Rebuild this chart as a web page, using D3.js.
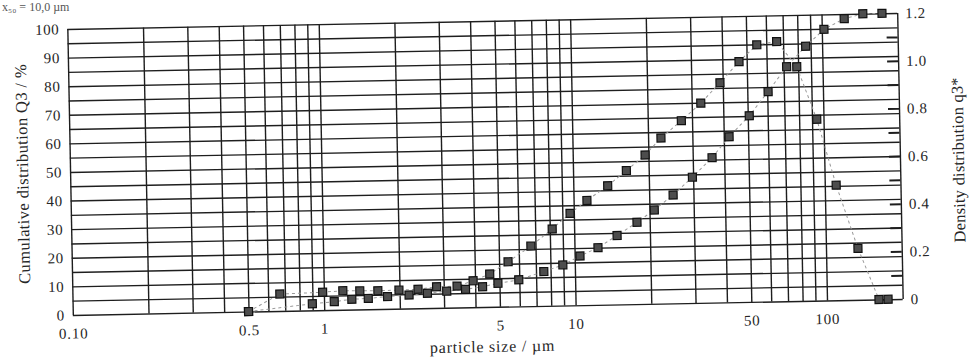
<!DOCTYPE html>
<html>
<head>
<meta charset="utf-8">
<script src="https://cdn.jsdelivr.net/npm/d3@7"></script>
<style>
  html, body { margin: 0; padding: 0; background: #fff; }
  svg { display: block; }
  text { font-family: "Liberation Serif", "DejaVu Serif", serif; fill: #262626; }
</style>
</head>
<body>
<div id="chart"></div>
<script>
// ---- data ----
const cumSize = [0.5, 0.898, 1.098, 1.29, 1.50, 1.79, 2.18, 2.58, 3.08, 3.66, 4.28, 4.93, 5.97, 7.52, 8.96,
                 10.5, 12.4, 14.8, 17.8, 20.9, 24.9, 29.8, 35.8, 42, 50.7, 60.5, 72, 86, 102, 123, 146, 174];
const cumQ3   = [0, 2.3, 2.9, 3.6, 3.8, 4.3, 4.7, 5.2, 5.8, 6.3, 7.1, 8.2, 9.3, 12.0, 14.2,
                 17.2, 20.0, 24.1, 28.6, 32.8, 37.9, 44.0, 50.7, 57.9, 65.1, 73.4, 82.0, 89.0, 94.8, 98.4, 100, 100];

const densSize = [0.5, 0.668, 0.989, 1.19, 1.39, 1.64, 1.99, 2.37, 2.81, 3.39, 3.93, 4.58, 5.43, 6.71, 8.18,
                  9.66, 11.3, 13.7, 16.3, 19.4, 22.5, 27.2, 32.6, 39, 46.6, 55, 66, 79, 94, 111, 134, 161, 175];
const densQ3  = [0, 0.071, 0.075, 0.080, 0.078, 0.077, 0.078, 0.080, 0.089, 0.090, 0.111, 0.138, 0.188, 0.252, 0.322,
                 0.386, 0.439, 0.499, 0.561, 0.625, 0.695, 0.766, 0.838, 0.922, 1.009, 1.078, 1.090, 0.983, 0.761, 0.483, 0.216, 0, 0];

const xTickValues = [0.1, 0.5, 1, 5, 10, 50, 100];
const xTickLabels = ["0.10", "0.5", "1", "5", "10", "50", "100"];
const leftTicks  = [0, 10, 20, 30, 40, 50, 60, 70, 80, 90, 100];
const rightTicks = [0, 0.2, 0.4, 0.6, 0.8, 1.0, 1.2];
const rightTickLabels = ["0", "0.2", "0.4", "0.6", "0.8", "1.0", "1.2"];
const rightMinor = [0.1, 0.2, 0.3, 0.4, 0.5, 0.6, 0.7, 0.8, 0.9, 1.0, 1.1];

// ---- layout ----
const W = 970, H = 360;
const L = 70, R = 900, T = 21, B = 307;

const svg = d3.select("#chart").append("svg").attr("width", W).attr("height", H);
svg.append("rect").attr("width", W).attr("height", H).attr("fill", "#fff");

// header text at the very top
svg.append("text").attr("x", 2).attr("y", 11).style("font-size", "12px").style("fill", "#555")
  .text("x\u2085\u2080 = 10,0 \u00b5m");

const g = svg.append("g").attr("transform", "rotate(-1.1,485,164)");

const x = d3.scaleLog().domain([0.1, 200]).range([L, R]);
const yL = d3.scaleLinear().domain([0, 100]).range([B, T]);
const yR = d3.scaleLinear().domain([0, 1.2]).range([B, T]);

const gridStroke = "#1e1e1e";

// vertical grid
const vg = g.append("g").attr("transform", `translate(0,${B})`)
  .call(d3.axisBottom(x).tickValues(x.ticks()).tickSize(-(B - T)).tickFormat(""));
vg.select(".domain").remove();
vg.selectAll("line").attr("stroke", gridStroke).attr("stroke-width", 1.4);

// horizontal grid
const hg = g.append("g").attr("transform", `translate(${L},0)`)
  .call(d3.axisLeft(yL).tickValues(d3.range(0, 101, 5)).tickSize(-(R - L)).tickFormat(""));
hg.select(".domain").remove();
hg.selectAll("line").attr("stroke", gridStroke).attr("stroke-width", 1.4);

// x axis labels
const xa = g.append("g").attr("transform", `translate(0,${B})`)
  .call(d3.axisBottom(x).tickValues(xTickValues).tickSize(0).tickPadding(13)
        .tickFormat((d, i) => xTickLabels[i]));
xa.select(".domain").remove();
xa.selectAll("text").style("font-size", "15px").style("letter-spacing", "0.8px")
  .style("font-family", "Liberation Serif").attr("fill", "#262626");

// left axis labels
const la = g.append("g").attr("transform", `translate(${L},0)`)
  .call(d3.axisLeft(yL).tickValues(leftTicks).tickSize(0).tickPadding(8));
la.select(".domain").remove();
la.selectAll("text").style("font-size", "15px").style("letter-spacing", "0.6px")
  .style("font-family", "Liberation Serif").attr("fill", "#262626");

// right axis labels
const ra = g.append("g").attr("transform", `translate(${R},0)`)
  .call(d3.axisRight(yR).tickValues(rightTicks).tickSize(0).tickPadding(8)
        .tickFormat((d, i) => rightTickLabels[i]));
ra.select(".domain").remove();
ra.selectAll("text").style("font-size", "15px").style("letter-spacing", "0.6px")
  .style("font-family", "Liberation Serif").attr("fill", "#262626");

// right inward minor ticks
const rm = g.append("g").attr("transform", `translate(${R},0)`)
  .call(d3.axisLeft(yR).tickValues(rightMinor).tickSize(11).tickFormat(""));
rm.select(".domain").remove();
rm.selectAll("line").attr("stroke", "#1e1e1e").attr("stroke-width", 2);

// connector lines (faint dashed)
const cumPts = cumSize.map((s, i) => [x(s), yL(cumQ3[i])]);
const densPts = densSize.map((s, i) => [x(s), yR(densQ3[i])]);
const line = d3.line();
[cumPts, densPts].forEach(pts => {
  g.append("path").attr("d", line(pts)).attr("fill", "none")
    .attr("stroke", "#9a9a9a").attr("stroke-width", 1).attr("stroke-dasharray", "3,3");
});

// markers
const S = 8;
function squares(pts, cls) {
  g.append("g").attr("class", cls).selectAll("rect").data(pts).join("rect")
    .attr("x", d => d[0] - S / 2).attr("y", d => d[1] - S / 2)
    .attr("width", S).attr("height", S)
    .attr("fill", "#4d4d4d").attr("stroke", "#111").attr("stroke-width", 1.2);
}
squares(cumPts, "cum");
squares(densPts, "dens");

// axis titles
g.append("text").attr("x", (L + R) / 2 + 4).attr("y", 352).attr("text-anchor", "middle")
  .style("font-size", "16px").style("letter-spacing", "0.8px")
  .text("particle size / \u00b5m");

g.append("text").attr("transform", "translate(28,165) rotate(-90)").attr("text-anchor", "middle")
  .style("font-size", "16.5px").style("letter-spacing", "0.4px")
  .text("Cumulative distribution Q3 / %");

g.append("text").attr("transform", "translate(964,169) rotate(-90)").attr("text-anchor", "middle")
  .style("font-size", "16.5px").style("letter-spacing", "0.2px")
  .text("Density distribution q3*");
</script>
</body>
</html>
